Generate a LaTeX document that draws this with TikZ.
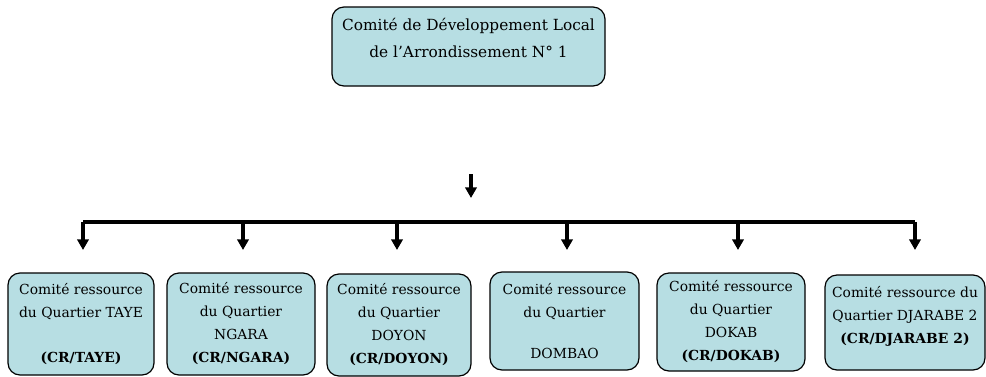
\documentclass[tikz,border=0pt]{standalone}
\usepackage{fontspec}
\setmainfont{DejaVu Serif}
\usetikzlibrary{arrows.meta}
\definecolor{cellbleu}{RGB}{183,222,227}
\tikzset{
  cellule/.style={draw, line width=0.9pt, rounded corners=9pt, fill=cellbleu,
    align=center, inner sep=0pt},
  quartier/.style={cellule, font=\fontsize{10.4}{17.25}\selectfont},
  fleche/.style={line width=2.4pt, line join=miter,
    -{Triangle[length=8pt,width=8.5pt]}},
}
\begin{document}
\begin{tikzpicture}[x=0.75pt,y=-0.75pt]
\useasboundingbox (0,0) rectangle (986,376);
% comite de developpement local
\node[cellule, font=\fontsize{11.5}{20.25}\selectfont,
  minimum width=204.75pt, minimum height=59.25pt] (cdl) at (468.5,46.5)
  {Comité de Développement Local\\de l’Arrondissement N° 1\\[-6.75pt]\mbox{}};
\coordinate (s0) at (471,174);
\coordinate (s1) at (471,198);
\draw[fleche] (s0)--(s1);
% comites ressources des quartiers
\node[quartier, minimum width=109.5pt, minimum height=76.5pt] (taye) at (81,324)
  {Comité ressource\\du Quartier TAYE\\[16.5pt]\textbf{(CR/TAYE)}};
\node[quartier, minimum width=111pt, minimum height=76.5pt] (ngara) at (241,324)
  {Comité ressource\\du Quartier\\NGARA\\\textbf{(CR/NGARA)}};
\node[quartier, minimum width=108pt, minimum height=76.5pt] (doyon) at (399,325)
  {Comité ressource\\du Quartier\\DOYON\\\textbf{(CR/DOYON)}};
\node[quartier, minimum width=111.75pt, minimum height=73.5pt] (dombao) at (564.5,321)
  {Comité ressource\\du Quartier\\[13.5pt]DOMBAO};
\node[quartier, minimum width=111pt, minimum height=73.5pt] (dokab) at (731,322)
  {Comité ressource\\du Quartier\\DOKAB\\\textbf{(CR/DOKAB)}};
\node[quartier, minimum width=120pt, minimum height=71.25pt] (djarabe) at (905,322.5)
  {Comité ressource du\\Quartier DJARABE 2\\\textbf{(CR/DJARABE 2)}\\[-6pt]\mbox{}};
% barre de distribution
\coordinate (b1) at (83,222);
\coordinate (b2) at (243,222);
\coordinate (b3) at (397,222);
\coordinate (b4) at (567,222);
\coordinate (b5) at (738,222);
\coordinate (b6) at (915,222);
\draw[line width=2.4pt] (b1)--(b6);
\draw[fleche] (b1)--++(0,28);
\draw[fleche] (b2)--++(0,28);
\draw[fleche] (b3)--++(0,28);
\draw[fleche] (b4)--++(0,28);
\draw[fleche] (b5)--++(0,28);
\draw[fleche] (b6)--++(0,28);
\end{tikzpicture}
\end{document}
